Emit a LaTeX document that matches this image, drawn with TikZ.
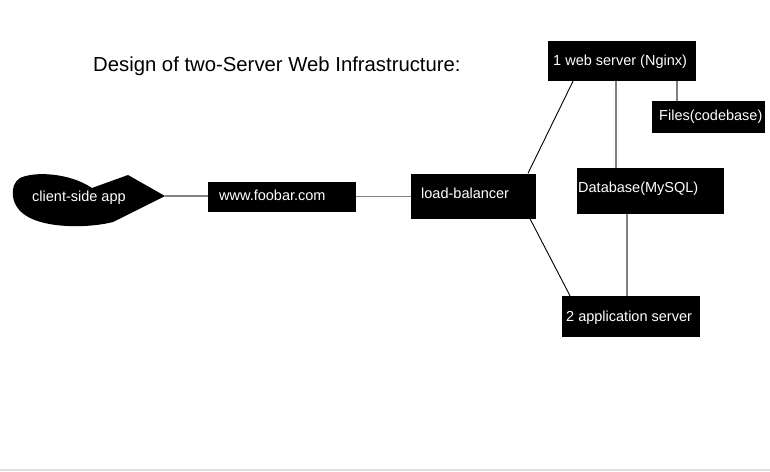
\documentclass[tikz,border=0pt]{standalone}
\usepackage{fontspec}
\setmainfont{Liberation Sans}
\begin{document}
\begin{tikzpicture}[x=1pt,y=-1pt,
  box/.style={draw=none,fill=black,rectangle,inner sep=0pt},
  lbl/.style={text=white,font=\fontsize{14.5}{16}\selectfont,inner sep=0pt,anchor=west},
  link/.style={draw=black!50,line width=1.6pt},
  thin/.style={draw=black,line width=0.9pt}]
\useasboundingbox (0,0) rectangle (770,471);
\fill[white] (0,0) rectangle (770,471);
\draw[black!12,line width=1.2pt] (0,470) -- (770,470);
% title
\node[anchor=west,inner sep=0pt,font=\fontsize{20.3}{23}\selectfont] (title) at (93,66) {Design of two-Server Web Infrastructure:};
% client blob
\fill[black] (92,188) -- (128,175) -- (165,196) -- (113,222)
  .. controls (90,228) and (45,229) .. (25,215)
  .. controls (10,205) and (9,185) .. (20,178)
  .. controls (35,171) and (70,173) .. (92,188) -- cycle;
\coordinate (clienttip) at (165,196);
\node[lbl] (clientt) at (32,198) {client-side app};
% boxes
\node[box,minimum width=148,minimum height=30] (www) at (282,196.5) {};
\node[lbl] (wwwt) at (219,195) {www.foobar.com};
\node[box,minimum width=125,minimum height=45] (lb) at (473.5,196) {};
\node[lbl] (lbt) at (421,193) {load-balancer};
\node[box,minimum width=148,minimum height=40] (web) at (622,61) {};
\node[lbl] (webt) at (553,62) {1 web server (Nginx)};
\node[box,minimum width=113,minimum height=32] (files) at (708.5,117) {};
\node[lbl] (filest) at (659,117) {Files(codebase)};
\node[box,minimum width=147,minimum height=46] (db) at (650.5,191) {};
\node[lbl] (dbt) at (578,189) {Database(MySQL)};
\node[box,minimum width=138,minimum height=41] (app) at (631,316.5) {};
\node[lbl] (appt) at (566,318) {2 application server};
% connectors
\draw[link] (clienttip) -- (clienttip -| www.west);
\draw[link] (www.east) -- (www.east -| lb.west);
\draw[thin] ([xshift=54.5]lb.north) -- ([xshift=-49]web.south);
\draw[thin] ([xshift=56.5]lb.south) -- ([xshift=-61]app.north);
\draw[link] ([xshift=-6]web.south) -- ([xshift=-34.5]db.north);
\draw[link] ([xshift=55]web.south) -- ([xshift=-31.5]files.north);
\draw[link] ([xshift=-23.5]db.south) -- ([xshift=-4]app.north);
\end{tikzpicture}
\end{document}
